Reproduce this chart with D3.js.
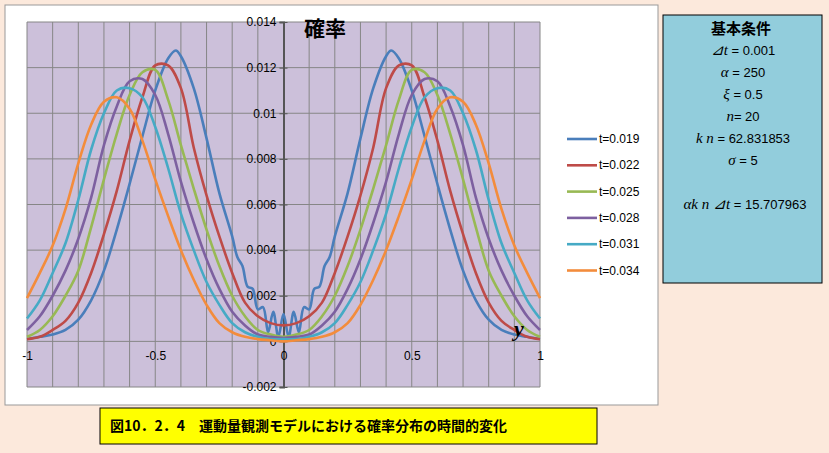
<!DOCTYPE html><html><head><meta charset="utf-8"><script src="https://d3js.org/d3.v7.min.js"></script>
<style>body{margin:0;background:#fce9dc;font-family:"Liberation Sans",Arial,sans-serif}</style></head><body><svg id="c" width="829" height="453"></svg>
<script>
const xs=[-1,-0.95,-0.9,-0.85,-0.8,-0.75,-0.7,-0.65,-0.6,-0.55,-0.5,-0.45,-0.4,-0.35,-0.3,-0.25,-0.2,-0.15,-0.1,-0.05,0,0.05,0.1,0.15,0.2,0.25,0.3,0.35,0.4,0.45,0.5,0.55,0.6,0.65,0.7,0.75,0.8,0.85,0.9,0.95,1];
const xsBlue=[-1,-0.95,-0.9,-0.85,-0.8,-0.75,-0.7,-0.65,-0.6,-0.55,-0.5,-0.45,-0.42,-0.4,-0.35,-0.3,-0.25,-0.2,-0.18,-0.16,-0.14,-0.12,-0.1,-0.08,-0.06,-0.04,-0.02,0,0.02,0.04,0.06,0.08,0.1,0.12,0.14,0.16,0.18,0.2,0.25,0.3,0.35,0.4,0.42,0.45,0.5,0.55,0.6,0.65,0.7,0.75,0.8,0.85,0.9,0.95,1];
const t019=[.0001,.0002,.0003,.0005,.00095,.0018,.0031,.0049,.0069,.0090,.0110,.0124,.01275,.0125,.0111,.0089,.0065,.0046,.0037,.0033,.0024,.0023,.0014,.0015,.0004,.0013,.0002,.0012,.0002,.0013,.0004,.0015,.0014,.0023,.0024,.0033,.0037,.0046,.0065,.0089,.0111,.0125,.01275,.0124,.0110,.0090,.0069,.0049,.0031,.0018,.00095,.0005,.0003,.0002,.0001];
const t022=[.0001,.0002,.0005,.0009,.0017,.0030,.0047,.0066,.0088,.0107,.0121,.0121,.0111,.0085,.0064,.0046,.0030,.0017,.0011,.0008,.0007,.0008,.0011,.0017,.0030,.0046,.0064,.0085,.0111,.0121,.0121,.0107,.0088,.0066,.0047,.0030,.0017,.0009,.0005,.0002,.0001];
const t025=[.0002,.0005,.0011,.0020,.0031,.0050,.0071,.0091,.0108,.0118,.0119,.0106,.0086,.0067,.0049,.0033,.0020,.0011,.0005,.0003,.0002,.0003,.0005,.0011,.0020,.0033,.0049,.0067,.0086,.0106,.0119,.0118,.0108,.0091,.0071,.0050,.0031,.0020,.0011,.0005,.0002];
const t028=[.0005,.0011,.0020,.0031,.0045,.0063,.0086,.0103,.0114,.0115,.0108,.0091,.0070,.0052,.0036,.0023,.0013,.0007,.0003,.0002,.00015,.0002,.0003,.0007,.0013,.0023,.0036,.0052,.0070,.0091,.0108,.0115,.0114,.0103,.0086,.0063,.0045,.0031,.0020,.0011,.0005];
const t031=[.0010,.0018,.0030,.0043,.0062,.0084,.0100,.0110,.0111,.0107,.0094,.0076,.0056,.0040,.0026,.0016,.0008,.0004,.0002,.0001,.0001,.0001,.0002,.0004,.0008,.0016,.0026,.0040,.0056,.0076,.0094,.0107,.0111,.0110,.0100,.0084,.0062,.0043,.0030,.0018,.0010];
const t034=[.0019,.0030,.0042,.0058,.0078,.0095,.0105,.0107,.0102,.0088,.0071,.0055,.0040,.0027,.0016,.0008,.0004,.0002,.0001,.00005,0,.00005,.0001,.0002,.0004,.0008,.0016,.0027,.0040,.0055,.0071,.0088,.0102,.0107,.0105,.0095,.0078,.0058,.0042,.0030,.0019];
const seriesNames=["t=0.019","t=0.022","t=0.025","t=0.028","t=0.031","t=0.034"];
const colors=["#4a7ebb","#be4b48","#98b954","#7d60a0","#46aac5","#f38c3c"];
const yTicks=[-0.002,0,0.002,0.004,0.006,0.008,0.01,0.012,0.014];
const xTicks=[-1,-0.5,0,0.5,1];
const conds=[["⊿","t"," = 0.001"],["α",""," = 250"],["ξ",""," = 0.5"],["n","","= 20"],["k n",""," = 62.831853"],["σ",""," = 5"],null,["αk n ⊿","t"," = 15.707963"]];

const svg=d3.select("#c");
svg.append("rect").attr("x",5).attr("y",5).attr("width",653).attr("height",400).attr("fill","#fff").attr("stroke","#999");
const x=d3.scaleLinear().domain([-1,1]).range([27,540]);
const y=d3.scaleLinear().domain([-0.002,0.014]).range([387,22]);
svg.append("rect").attr("x",27).attr("y",22).attr("width",513).attr("height",365).attr("fill","#ccc0da");
const g=svg.append("g");
d3.range(-10,11).forEach(i=>g.append("line").attr("x1",x(i/10)).attr("x2",x(i/10)).attr("y1",22).attr("y2",387).attr("stroke","#868686"));
yTicks.forEach(v=>g.append("line").attr("x1",27).attr("x2",540).attr("y1",y(v)).attr("y2",y(v)).attr("stroke","#868686"));
const ya=svg.append("g").attr("transform",`translate(${x(0)},0)`).call(d3.axisLeft(y).tickValues(yTicks).tickFormat(d=>d===0?"0":String(+d.toFixed(3))).tickSize(4));
ya.select(".domain").attr("stroke","#555").attr("stroke-width",2);
ya.selectAll(".tick line").attr("x2",4).attr("x1",-4).attr("stroke","#555");
ya.selectAll("text").attr("font-size",12).attr("fill","#000").attr("font-family","Liberation Sans");
const xa=svg.append("g").attr("transform",`translate(0,${y(0)})`).call(d3.axisBottom(x).tickValues(xTicks).tickFormat(d=>String(d)).tickSize(0).tickPadding(10));
xa.select(".domain").remove();
xa.selectAll("text").attr("font-size",12).attr("fill","#000").attr("font-family","Liberation Sans");
const data=[[xsBlue,t019],[xs,t022],[xs,t025],[xs,t028],[xs,t031],[xs,t034]];
const line=d3.line().x(d=>x(d[0])).y(d=>y(d[1])).curve(d3.curveCatmullRom);
data.forEach((s,i)=>svg.append("path").attr("d",line(s[0].map((v,j)=>[v,s[1][j]]))).attr("fill","none").attr("stroke",colors[i]).attr("stroke-width",2.6));
svg.append("text").attr("x",304).attr("y",36).attr("font-size",21).attr("font-weight","bold").attr("font-family","Noto Sans CJK JP").text("確率");
svg.append("text").attr("x",514).attr("y",336).attr("font-size",22).attr("font-weight","bold").attr("font-style","italic").attr("font-family","Liberation Serif").text("y");
seriesNames.forEach((n,i)=>{const yy=139+i*26.3;
svg.append("line").attr("x1",567).attr("x2",597).attr("y1",yy).attr("y2",yy).attr("stroke",colors[i]).attr("stroke-width",2.6);
svg.append("text").attr("x",599).attr("y",yy+4).attr("font-size",12).text(n);});
svg.append("rect").attr("x",663).attr("y",15).attr("width",159).attr("height",268).attr("fill","#92cddc").attr("stroke","#000");
svg.append("text").attr("x",741).attr("y",34).attr("text-anchor","middle").attr("font-size",15).attr("font-weight","bold").attr("font-family","Noto Sans CJK JP").text("基本条件");
conds.forEach((c,i)=>{if(!c)return;const t=svg.append("text").attr("x",i===7?745:743).attr("y",55+i*22).attr("text-anchor","middle").attr("font-size",13);
t.append("tspan").attr("font-family","Liberation Serif").attr("font-style","italic").attr("font-size",15).text(c[0]);
t.append("tspan").attr("font-family","Liberation Serif").attr("font-style","italic").attr("font-size",15).text(c[1]);
t.append("tspan").text(c[2]);});
svg.append("rect").attr("x",100).attr("y",408).attr("width",497).attr("height",36).attr("fill","#ffff00").attr("stroke","#000");
svg.append("text").attr("x",110).attr("y",431).attr("font-size",14).attr("font-weight","bold").attr("font-family","Noto Sans CJK JP").text("図10．2．4　運動量観測モデルにおける確率分布の時間的変化");
</script></body></html>
